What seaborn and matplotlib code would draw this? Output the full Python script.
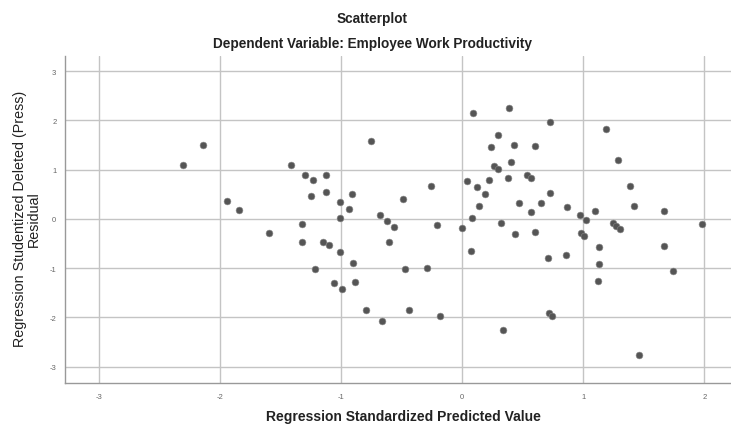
import pandas as pd
import seaborn as sns
import matplotlib.pyplot as plt

# values
predicted = [-2.30, -2.14, -1.94, -1.84, -1.59, -1.41, -1.32, -1.32, -1.30, -1.23,
             -1.25, -1.21, -1.12, -1.12, -1.15, -1.10, -1.06, -1.01, -1.01, -1.01,
             -0.99, -0.91, -0.93, -0.90, -0.88, -0.79, -0.75, -0.68, -0.62, -0.56,
             -0.60, -0.66, -0.49, -0.47, -0.44, -0.29, -0.26, -0.21, -0.18, 0.00,
             0.04, 0.07, 0.08, 0.09, 0.12, 0.14, 0.19, 0.22, 0.24, 0.26,
             0.30, 0.30, 0.32, 0.34, 0.39, 0.38, 0.40, 0.43, 0.44, 0.47,
             0.54, 0.57, 0.57, 0.60, 0.60, 0.65, 0.71, 0.73, 0.73, 0.72,
             0.745, 0.86, 0.87, 0.97, 1.02, 0.98, 1.01, 1.10, 1.13, 1.13,
             1.12, 1.19, 1.245, 1.27, 1.30, 1.29, 1.39, 1.42, 1.46, 1.67,
             1.665, 1.745, 1.98]
residual = [1.09, 1.50, 0.37, 0.18, -0.29, 1.10, -0.10, -0.46, 0.90, 0.79,
            0.46, -1.01, 0.90, 0.55, -0.46, -0.53, -1.30, 0.35, 0.02, -0.68,
            -1.42, 0.51, 0.20, -0.90, -1.28, -1.84, 1.59, 0.08, -0.04, -0.16,
            -0.46, -2.08, 0.41, -1.02, -1.85, -0.99, 0.66, -0.12, -1.97, -0.18,
            0.78, -0.66, 0.02, 2.16, 0.64, 0.26, 0.51, 0.80, 1.46, 1.07,
            1.01, 1.71, -0.08, -2.25, 2.25, 0.83, 1.16, 1.50, -0.31, 0.33,
            0.89, 0.83, 0.14, 1.49, -0.27, 0.33, -0.80, 1.96, 0.53, -1.91,
            -1.96, -0.73, 0.25, 0.08, -0.02, -0.28, -0.34, 0.17, -0.56, -0.91,
            -1.25, 1.82, -0.09, -0.14, -0.20, 1.20, 0.66, 0.26, -2.77, 0.16,
            -0.54, -1.05, -0.10]
ticks = [-3, -2, -1, 0, 1, 2, 3]

df = pd.DataFrame({"pred": predicted, "resid": residual})

sns.set_style("white")
plt.rcParams["font.family"] = ["Liberation Sans", "DejaVu Sans"]

fig = plt.figure(figsize=(7.31, 4.27), dpi=100)
ax = fig.add_axes([0.0885, 0.1007, 0.9115, 0.765])

sns.scatterplot(data=df, x="pred", y="resid", ax=ax, s=24, color="#555555",
                edgecolor="#888888", linewidth=0.4, zorder=3)

ax.set_xlim(-3.28, 2.22)
ax.set_ylim(-3.33, 3.3)
ax.set_xticks(ticks[:-1])
ax.set_yticks(ticks)
ax.set_xticklabels([str(t) for t in ticks[:-1]])
ax.set_yticklabels([str(t) for t in ticks])
ax.tick_params(axis="both", length=0, labelsize=5.5, labelcolor="#666666")
ax.tick_params(axis="x", pad=7)
ax.tick_params(axis="y", pad=6)
ax.grid(True, color="#c4c4c4", linewidth=1.0)
ax.set_axisbelow(True)

for side in ["top", "right"]:
    ax.spines[side].set_visible(False)
for side in ["left", "bottom"]:
    ax.spines[side].set_color("#999999")
    ax.spines[side].set_linewidth(1.0)

ax.set_xlabel("")
ax.set_ylabel("")

fig.text(0.509, 1 - 19 / 427, "Scatterplot", ha="center", va="center",
         fontsize=9.8, fontweight="bold", color="#222222")
fig.text(0.509, 1 - 44 / 427, "Dependent Variable: Employee Work Productivity",
         ha="center", va="center", fontsize=9.8, fontweight="bold", color="#222222")
fig.text(403 / 731, 1 - 417 / 427, "Regression Standardized Predicted Value",
         ha="center", va="center", fontsize=10, fontweight="bold", color="#222222")
fig.text(20 / 731, 1 - 219 / 427, "Regression Studentized Deleted (Press)",
         ha="center", va="center", rotation=90, fontsize=10.3, color="#222222")
fig.text(34 / 731, 1 - 219 / 427, "Residual",
         ha="center", va="center", rotation=90, fontsize=10.3, color="#222222")

fig.savefig("out.png", dpi=100)
